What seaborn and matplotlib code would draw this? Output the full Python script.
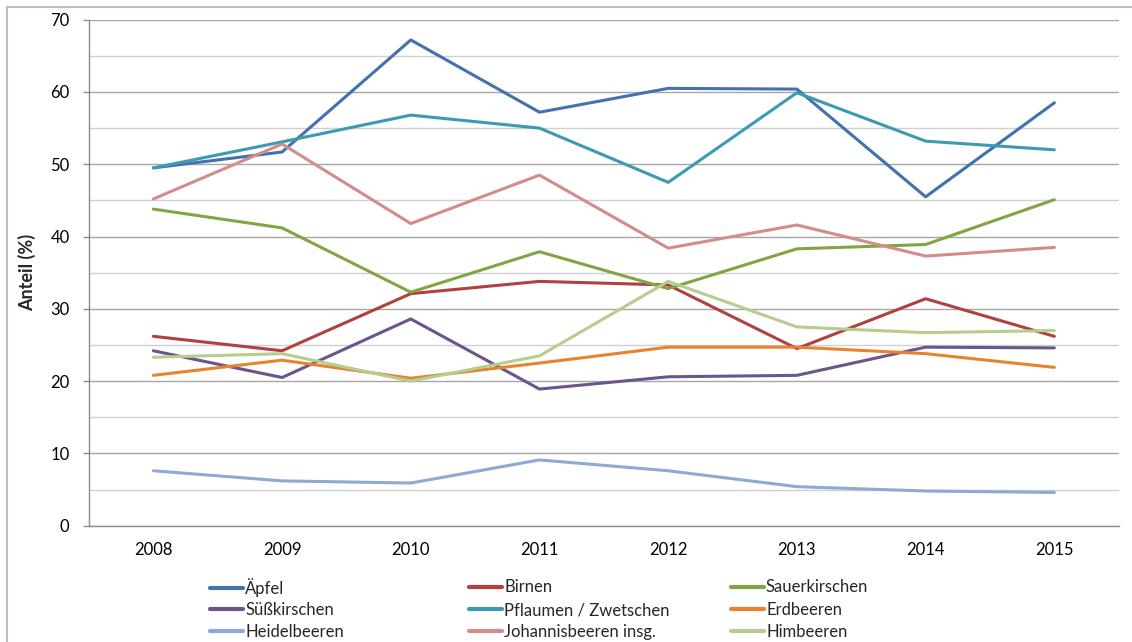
import pandas as pd
import matplotlib.pyplot as plt
import seaborn as sns
from matplotlib.lines import Line2D
from matplotlib.ticker import MultipleLocator

years = [2008, 2009, 2010, 2011, 2012, 2013, 2014, 2015]

aepfel = [49.5, 51.7, 67.2, 57.2, 60.5, 60.4, 45.5, 58.5]
birnen = [26.2, 24.2, 32.1, 33.8, 33.3, 24.5, 31.4, 26.2]
sauerkirschen = [43.8, 41.2, 32.3, 37.9, 32.8, 38.3, 38.9, 45.1]
suesskirschen = [24.2, 20.5, 28.6, 18.9, 20.6, 20.8, 24.7, 24.6]
pflaumen = [49.5, 53.1, 56.8, 55.0, 47.5, 59.9, 53.2, 52.0]
erdbeeren = [20.8, 22.9, 20.4, 22.5, 24.7, 24.7, 23.8, 21.9]
heidelbeeren = [7.6, 6.2, 5.9, 9.1, 7.6, 5.4, 4.8, 4.6]
johannisbeeren = [45.2, 52.8, 41.8, 48.5, 38.4, 41.6, 37.3, 38.5]
himbeeren = [23.3, 23.8, 20.0, 23.5, 33.8, 27.5, 26.7, 27.0]

names = ["Äpfel", "Birnen", "Sauerkirschen",
         "Süßkirschen", "Pflaumen / Zwetschen", "Erdbeeren",
         "Heidelbeeren", "Johannisbeeren insg.", "Himbeeren"]
series = [aepfel, birnen, sauerkirschen,
          suesskirschen, pflaumen, erdbeeren,
          heidelbeeren, johannisbeeren, himbeeren]
colors = ["#4371AD", "#B0413E", "#83A443",
          "#6C548C", "#3C9AB2", "#E6832F",
          "#8EA9D3", "#D48C8A", "#B5CD8E"]

rows = []
for name, vals in zip(names, series):
    for y, v in zip(years, vals):
        rows.append({"Jahr": y, "Anteil": v, "Obst": name})
df = pd.DataFrame(rows)

sns.set_style("white")
plt.rcParams["font.family"] = ["Lato", "DejaVu Sans"]

W, H = 1132, 642
fig = plt.figure(figsize=(W / 100, H / 100), dpi=100)
ax = fig.add_axes([89 / W, 1 - 525.7 / H, (1118.7 - 89) / W, (525.7 - 19.7) / H])

palette = dict(zip(names, colors))
sns.lineplot(data=df, x="Jahr", y="Anteil", hue="Obst", hue_order=names,
             palette=palette, linewidth=2.2, legend=False, ax=ax)

ax.set_xlim(2007.5, 2015.5)
ax.set_ylim(0, 70)
ax.set_xticks(years)
ax.set_xticklabels([str(y) for y in years])
ax.yaxis.set_major_locator(MultipleLocator(10))
ax.yaxis.set_minor_locator(MultipleLocator(5))
ax.grid(axis="y", which="major", color="#A6A6A6", linewidth=1.0)
ax.grid(axis="y", which="minor", color="#D0D0D0", linewidth=1.0)
ax.set_axisbelow(True)
for s in ["top", "right"]:
    ax.spines[s].set_visible(False)
for s in ["left", "bottom"]:
    ax.spines[s].set_color("#8C8C8C")
    ax.spines[s].set_linewidth(1.0)
ax.tick_params(axis="y", which="major", length=4, width=1, color="#8C8C8C",
               pad=10, labelsize=12, labelcolor="#000000", left=True)
ax.tick_params(axis="y", which="minor", length=0)
ax.tick_params(axis="x", length=0, pad=12, labelsize=12, labelcolor="#000000")
ax.set_xlabel("")
ax.set_ylabel("Anteil (%)", fontsize=13, fontweight="bold", labelpad=10)

# legend: 3 x 3 grid, filled row by row, one entry per legend so rows line up
col_x = [210, 469, 731]
row_y = [587.5, 610, 632]
for i, (name, col) in enumerate(zip(names, colors)):
    r, c = divmod(i, 3)
    h = Line2D([0], [0], color=col, linewidth=3)
    fig.legend([h], [name], loc="center left",
               bbox_to_anchor=(col_x[c] / W, 1 - row_y[r] / H),
               frameon=False, fontsize=12, handlelength=2.0,
               handletextpad=0.1, borderpad=0, borderaxespad=0)

# outer chart frame
fig.add_artist(Line2D([7 / W, 1.0], [1 - 7 / H, 1 - 7 / H], color="#BFBFBF", linewidth=1.5))
fig.add_artist(Line2D([7 / W, 7 / W], [0, 1 - 7 / H], color="#BFBFBF", linewidth=1.5))

fig.savefig("out.png", dpi=100)
